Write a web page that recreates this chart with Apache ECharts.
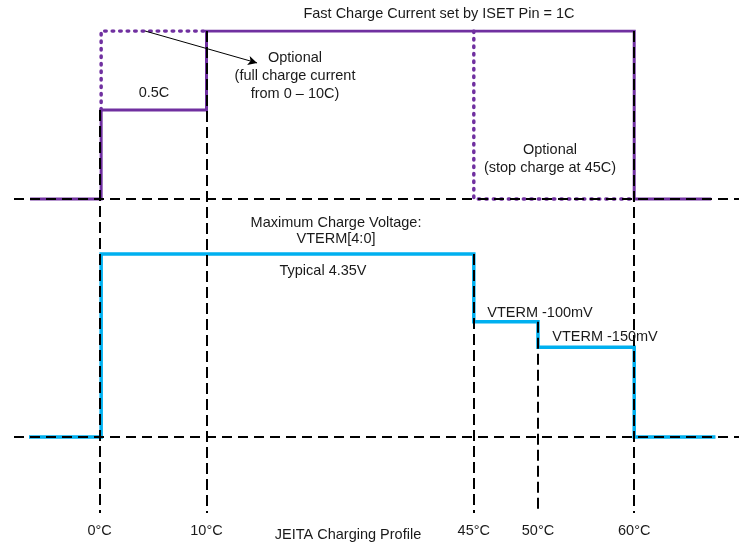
<!DOCTYPE html>
<html>
<head>
<meta charset="utf-8">
<script src="https://cdn.jsdelivr.net/npm/echarts@6/dist/echarts.min.js"></script>
<style>
html,body{margin:0;padding:0;background:#fff;}
#chart{width:739px;height:543px;}
</style>
</head>
<body>
<div id="chart"></div>
<script>
// ---- data (schematic diagram: positions along the temperature axis are not to scale) ----
const tempLabels = ['0°C', '10°C', '45°C', '50°C', '60°C'];
const tempPos = [0, 10, 35, 41, 50];               // schematic axis position of each temperature
const currentSteps = [[-6.5, 0], [0.15, 0.53], [10, 1], [50, 0], [57.2, 0]];   // charge current (C), step 'end'
const currentOpt0to10 = [[0.15, 0.53], [10, 1]];   // optional full current 0–10C
const currentOptStop45 = [[35, 1], [50, 0]];       // optional stop at 45C
const voltageSteps = [[-6.6, 0], [0.15, 1], [35, 0.63], [41, 0.49], [50, 0], [57.6, 0]]; // relative VTERM level
const guideTop = [['cur', 0.53], ['cur', 1], ['volt', 1], ['volt', 0.63], ['cur', 1]];

// ---- layout (not data) ----
const Y_MAX = 2.869, CUR_BASE = 1.869, VOLT_BASE = 0.4524, VOLT_SCALE = 1.089;
const X_MIN = -8, X_MAX = 59.8;
const PURPLE = '#7030A0', BLUE = '#00B0F0', INK = '#1a1a1a';
const FONT = '14.5px "Liberation Sans", Arial, sans-serif';

const cur = p => [p[0], CUR_BASE + p[1]];
const volt = p => [p[0], VOLT_BASE + p[1] * VOLT_SCALE];
const lvl = (kind, v) => kind === 'cur' ? CUR_BASE + v : VOLT_BASE + v * VOLT_SCALE;

const vGuides = tempPos.map((x, i) => [
  { coord: [x, lvl(guideTop[i][0], guideTop[i][1])] },
  { coord: [x, 0] }
]);
const hGuides = [CUR_BASE, VOLT_BASE].map(y => [{ coord: [X_MIN, y] }, { coord: [X_MAX, y] }]);

const chart = echarts.init(document.getElementById('chart'), null, { renderer: 'canvas' });

const text = (t, x, y, extra) => ({
  type: 'text', z: 100,
  style: Object.assign({ text: t, x: x, y: y, align: 'center', verticalAlign: 'middle', font: FONT, fill: INK, lineHeight: 18 }, extra || {})
});

chart.setOption({
  animation: false,
  backgroundColor: '#fff',
  grid: { left: 14, right: 0, top: 31, bottom: 30, containLabel: false, outerBoundsMode: 'none' },
  xAxis: {
    type: 'value', min: X_MIN, max: X_MAX,
    axisLine: { show: false }, axisTick: { show: false }, splitLine: { show: false },
    axisLabel: {
      customValues: tempPos,
      formatter: v => tempLabels[tempPos.indexOf(v)] || '',
      color: INK, fontSize: 14.5, fontFamily: '"Liberation Sans", Arial, sans-serif', margin: 10
    }
  },
  yAxis: { type: 'value', min: 0, max: Y_MAX, show: false, splitLine: { show: false } },
  series: [
    { type: 'line', name: 'current', step: 'end', data: currentSteps.map(cur), symbol: 'none', z: 3,
      lineStyle: { color: PURPLE, width: 3, cap: 'butt', join: 'miter' } },
    { type: 'line', name: 'opt1', step: 'start', data: currentOpt0to10.map(cur), symbol: 'none', z: 2,
      lineStyle: { color: PURPLE, width: 3.5, type: [1.5, 6], cap: 'round' } },
    { type: 'line', name: 'opt2', step: 'start', data: currentOptStop45.map(cur), symbol: 'none', z: 2,
      lineStyle: { color: PURPLE, width: 3.5, type: [1.5, 6], cap: 'round' } },
    { type: 'line', name: 'voltage', step: 'end', data: voltageSteps.map(volt), symbol: 'none', z: 3,
      lineStyle: { color: BLUE, width: 3.5, cap: 'butt', join: 'miter' } },
    { type: 'line', name: 'guides', data: [], z: 5,
      markLine: {
        silent: true, symbol: ['none', 'none'], label: { show: false }, animation: false,
        data: [
          ...vGuides.map(d => [Object.assign({ lineStyle: { color: '#000', width: 2, type: [11, 5] } }, d[0]), d[1]]),
          ...hGuides.map(d => [Object.assign({ lineStyle: { color: '#000', width: 2, type: [10, 6] } }, d[0]), d[1]])
        ]
      }
    },
    { type: 'line', name: 'arrow', data: [], z: 6,
      markLine: {
        silent: true, symbol: ['none', 'arrow'], symbolSize: [7, 9], label: { show: false }, animation: false,
        lineStyle: { color: '#000', width: 1, type: 'solid' },
        data: [[{ coord: cur([4.26, 1]) }, { coord: cur([14.73, 0.81]) }]]
      }
    }
  ],
  graphic: [
    text('Fast Charge Current set by ISET Pin = 1C', 439, 14),
    text('Optional\n(full charge current\nfrom 0 \u2013 10C)', 295, 76),
    text('0.5C', 154, 93),
    text('Optional\n(stop charge at 45C)', 550, 159),
    text('Maximum Charge Voltage:\nVTERM[4:0]', 336, 231, { lineHeight: 16 }),
    text('Typical 4.35V', 323, 271),
    text('VTERM -100mV', 540, 313),
    text('VTERM -150mV', 605, 337),
    text('JEITA Charging Profile', 348, 535)
  ]
});
</script>
</body>
</html>
